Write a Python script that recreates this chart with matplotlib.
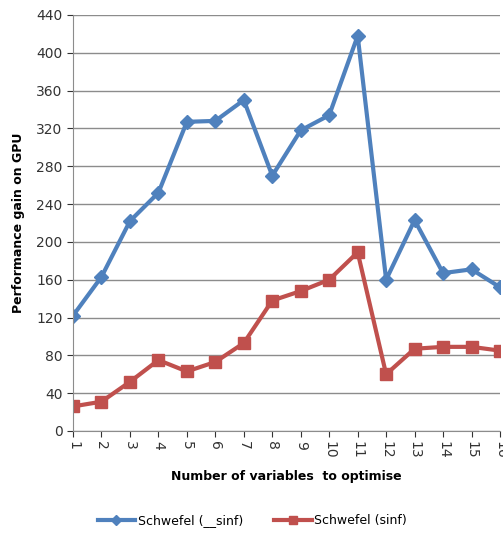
import numpy as np
from matplotlib import pyplot as plt

n_vars = list(range(1, 17))
sinf_fast = [122, 163, 222, 252, 327, 328, 350, 270, 318, 334, 418, 160, 223, 167, 171, 152]
sinf = [26, 31, 52, 75, 63, 73, 93, 138, 148, 160, 189, 60, 87, 89, 89, 85]
yticks = list(range(0, 441, 40))

fig = plt.figure(figsize=(5.03, 5.38), dpi=100)
ax = fig.add_axes([73/503, 107/538, 427/503, 416/538])

ax.plot(n_vars, sinf_fast, color='#4F81BD', lw=3, marker='D', ms=7,
        label='Schwefel (__sinf)')
ax.plot(n_vars, sinf, color='#C0504D', lw=3, marker='s', ms=9,
        label='Schwefel (sinf)')

ax.set_xlim(1, 16)
ax.set_ylim(0, 440)
ax.set_yticks(yticks)
ax.set_xticks(n_vars)
ax.set_xticklabels([str(v) for v in n_vars], rotation=-90)
ax.tick_params(axis='both', labelsize=10, colors='#333333', length=4)
ax.tick_params(axis='x', pad=3)
ax.grid(axis='y', color='#8c8c8c', lw=1)
ax.set_axisbelow(True)
for s in ['top', 'right']:
    ax.spines[s].set_visible(False)
for s in ['left', 'bottom']:
    ax.spines[s].set_color('#8c8c8c')

ax.set_ylabel('Performance gain on GPU', fontsize=9, fontweight='bold', labelpad=8)
ax.set_xlabel('Number of variables  to optimise', fontsize=9, fontweight='bold', labelpad=8)
ax.legend(loc='center', bbox_to_anchor=(0.42, -0.215), ncol=2, frameon=False,
          fontsize=9, handlelength=3, handletextpad=0.2, columnspacing=2.5,
          markerscale=0.7)

plt.savefig('out.png', dpi=100)
